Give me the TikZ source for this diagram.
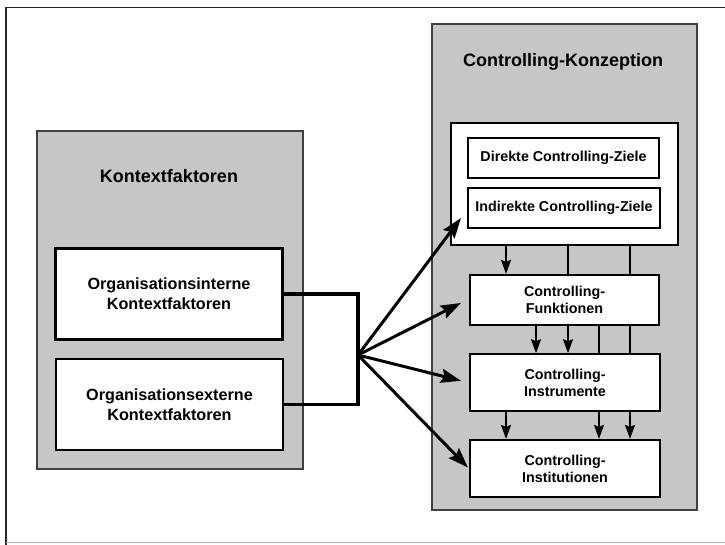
\documentclass[tikz,border=0pt]{standalone}
\usepackage{fontspec}
\setmainfont{Liberation Sans}
\usetikzlibrary{positioning,calc,arrows.meta}

\definecolor{panelgray}{RGB}{198,198,198}

\begin{document}
\begin{tikzpicture}[x=1pt,y=-1pt,
    every node/.append style={font=\bfseries, align=center, inner sep=0pt},
    panel/.style={draw=black!75, line width=1.3pt, fill=panelgray},
    box/.style={draw=black, line width=2.2pt, fill=white},
    titletxt/.style={font=\bfseries\fontsize{18}{22}\selectfont},
    bigtxt/.style={font=\bfseries\fontsize{16.2}{20}\selectfont},
    smalltxt/.style={font=\bfseries\fontsize{14.3}{17}\selectfont},
    bracket/.style={line width=3.4pt},
    bigarrow/.style={line width=3pt, -{Stealth[length=20pt,width=14pt,inset=3pt]}},
    smallarrow/.style={line width=1.6pt, -{Stealth[length=14pt,width=10pt,inset=2pt]}},
    link/.style={line width=1.6pt}]
    \useasboundingbox (0,0) rectangle (725,545);
    \draw[line width=1.8pt, black!85] (6,545) -- (6,7.5) -- (725,7.5);
    \draw[line width=0.6pt, black!30] (6,542) -- (725,542);

    \node[panel, minimum width=266, minimum height=338] (kontext) at (170,300) {};
    \node[titletxt] (kontexttitel) at (169,176) {Kontextfaktoren};
    \node[box, bigtxt, minimum width=227, minimum height=91] (intern) at (169,294)
        {Organisationsinterne\\Kontextfaktoren};
    \node[box, bigtxt, minimum width=227, minimum height=91] (extern) at (169.5,404.5)
        {Organisationsexterne\\Kontextfaktoren};

    \node[panel, minimum width=265, minimum height=486] (konzeption) at (564.5,267) {};
    \node[titletxt] (konzeptiontitel) at (563,62) {Controlling-Konzeption};
    \node[box, minimum width=227, minimum height=122] (ziele) at (564.5,184) {};
    \node[box, smalltxt, minimum width=191, minimum height=40] (direkt) at (563.5,158)
        {Direkte Controlling-Ziele};
    \node[box, smalltxt, minimum width=192, minimum height=40] (indirekt) at (564,208)
        {Indirekte Controlling-Ziele};
    \node[box, smalltxt, minimum width=189, minimum height=50] (funkt) at (564.5,300)
        {Controlling-\\Funktionen};
    \node[box, smalltxt, minimum width=190, minimum height=57] (instr) at (565,382.75)
        {Controlling-\\Instrumente};
    \node[box, smalltxt, minimum width=190, minimum height=57] (instit) at (565,468.5)
        {Controlling-\\Institutionen};

    \path (506,0) coordinate (xa) (536,0) coordinate (xb) (568,0) coordinate (xc)
          (599,0) coordinate (xd) (630,0) coordinate (xe);
    \draw[smallarrow] (ziele.south -| xa) -- (funkt.north -| xa);
    \foreach \c in {xc,xe}
      \draw[link] (ziele.south -| \c) -- (funkt.north -| \c);
    \foreach \c in {xb,xc}
      \draw[smallarrow] (funkt.south -| \c) -- (instr.north -| \c);
    \foreach \c in {xd,xe}
      \draw[link] (funkt.south -| \c) -- (instr.north -| \c);
    \foreach \c in {xa,xd,xe}
      \draw[smallarrow] (instr.south -| \c) -- (instit.north -| \c);

    \coordinate (hub) at (358,355);
    \draw[bracket] (intern.east) -| (hub) |- (extern.east);
    \draw[bigarrow] (hub) -- ($(ziele.south west)+(11,-28)$);
    \draw[bigarrow] (hub) -- ($(funkt.west)+(-8,3)$);
    \draw[bigarrow] (hub) -- ($(instr.west)+(-8,-2)$);
    \draw[bigarrow] (hub) -- ($(instit.west)+(-1,-1)$);
\end{tikzpicture}
\end{document}
